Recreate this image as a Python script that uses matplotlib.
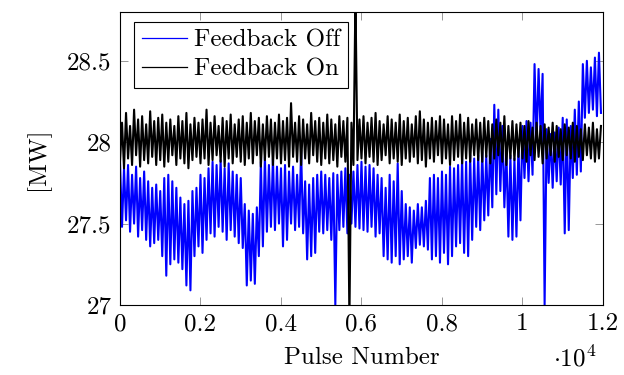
import matplotlib
matplotlib.use("Agg")
import matplotlib.pyplot as plt
import numpy as np
from matplotlib.ticker import FuncFormatter

plt.rcParams['font.family'] = 'cmr10'
plt.rcParams['mathtext.fontset'] = 'cm'
plt.rcParams['axes.unicode_minus'] = False

# pulse bins, 100 pulses each (upper / lower excursion)
pulse = np.arange(0, 12000, 100)

# Feedback Off (blue)
off_hi = [27.88, 27.84, 27.86, 27.80, 27.85, 27.78, 27.82, 27.76, 27.72, 27.74,
          27.70, 27.78, 27.80, 27.76, 27.72, 27.66, 27.62, 27.64, 27.70, 27.72,
          27.80, 27.78, 27.84, 27.88, 27.86, 27.89, 27.84, 27.87, 27.82, 27.80,
          27.78, 27.62, 27.58, 27.56, 27.60, 27.88, 27.91, 27.86, 27.90, 27.85,
          27.84, 27.86, 27.82, 27.85, 27.80, 27.95, 27.76, 27.74, 27.78, 27.80,
          27.82, 27.80, 27.78, 27.81, 27.80, 27.82, 27.84, 27.80, 27.82, 27.86,
          27.88, 27.85, 27.86, 27.84, 27.80, 27.78, 27.72, 27.80, 27.76, 27.87,
          27.70, 27.62, 27.60, 27.58, 27.62, 27.60, 27.64, 27.78, 27.80, 27.78,
          27.82, 27.80, 27.85, 27.84, 27.86, 27.90, 27.88, 27.92, 27.90, 27.92,
          27.94, 27.92, 28.02, 28.23, 28.20, 28.10, 27.95, 27.92, 27.90, 27.98,
          28.10, 28.13, 28.12, 28.48, 28.45, 28.42, 28.08, 28.05, 28.06, 28.09,
          28.15, 28.14, 28.10, 28.20, 28.25, 28.48, 28.50, 28.46, 28.52, 28.55]
off_lo = [27.48, 27.52, 27.45, 27.50, 27.42, 27.46, 27.40, 27.36, 27.38, 27.40,
          27.30, 27.18, 27.25, 27.28, 27.26, 27.22, 27.12, 27.09, 27.30, 27.36,
          27.32, 27.40, 27.44, 27.42, 27.48, 27.45, 27.40, 27.46, 27.42, 27.38,
          27.35, 27.12, 27.15, 27.13, 27.30, 27.36, 27.45, 27.48, 27.46, 27.50,
          27.36, 27.40, 27.50, 27.46, 27.48, 27.44, 27.28, 27.30, 27.32, 27.45,
          27.44, 27.46, 27.40, 27.00, 27.46, 27.48, 27.44, 27.50, 27.48, 27.47,
          27.46, 27.45, 27.48, 27.42, 27.44, 27.30, 27.28, 27.26, 27.30, 27.25,
          27.28, 27.30, 27.26, 27.35, 27.37, 27.36, 27.34, 27.28, 27.30, 27.26,
          27.32, 27.25, 27.30, 27.36, 27.38, 27.32, 27.30, 27.40, 27.48, 27.46,
          27.52, 27.55, 27.60, 27.68, 27.70, 27.60, 27.42, 27.40, 27.42, 27.52,
          27.78, 27.76, 27.80, 28.00, 28.05, 27.00, 27.75, 27.72, 27.76, 27.74,
          27.44, 27.46, 27.78, 27.80, 27.82, 28.15, 28.18, 28.20, 28.16, 28.18]

# Feedback On (black)
on_hi = [28.12, 28.18, 28.10, 28.20, 28.14, 28.16, 28.11, 28.19, 28.13, 28.15,
         28.17, 28.12, 28.14, 28.10, 28.16, 28.13, 28.18, 28.11, 28.15, 28.12,
         28.14, 28.20, 28.12, 28.16, 28.10, 28.15, 28.13, 28.17, 28.11, 28.14,
         28.16, 28.12, 28.18, 28.13, 28.15, 28.11, 28.16, 28.14, 28.12, 28.17,
         28.13, 28.15, 28.24, 28.12, 28.16, 28.14, 28.11, 28.18, 28.13, 28.15,
         28.12, 28.17, 28.14, 28.11, 28.16, 28.13, 28.15, 28.12, 28.90, 28.14,
         28.16, 28.12, 28.15, 28.18, 28.13, 28.11, 28.16, 28.14, 28.12, 28.17,
         28.13, 28.15, 28.11, 28.16, 28.19, 28.14, 28.12, 28.15, 28.13, 28.16,
         28.14, 28.11, 28.16, 28.13, 28.17, 28.12, 28.15, 28.11, 28.14, 28.12,
         28.15, 28.13, 28.11, 28.14, 28.12, 28.16, 28.10, 28.13, 28.11, 28.12,
         28.10, 28.13, 28.09, 28.12, 28.10, 28.11, 28.09, 28.12, 28.10, 28.08,
         28.11, 28.09, 28.12, 28.10, 28.08, 28.11, 28.09, 28.12, 28.08, 28.10]
on_lo = [27.88, 27.84, 27.90, 27.86, 27.92, 27.85, 27.89, 27.87, 27.91, 27.86,
         27.89, 27.85, 27.88, 27.92, 27.86, 27.90, 27.87, 27.84, 27.89, 27.91,
         27.87, 27.90, 27.86, 27.89, 27.92, 27.88, 27.85, 27.90, 27.87, 27.91,
         27.88, 27.86, 27.90, 27.87, 27.92, 27.85, 27.89, 27.91, 27.86, 27.90,
         27.87, 27.89, 27.85, 27.91, 27.88, 27.86, 27.90, 27.87, 27.92, 27.88,
         27.86, 27.90, 27.87, 27.89, 27.85, 27.91, 27.88, 26.90, 27.86, 27.89,
         27.90, 27.87, 27.91, 27.88, 27.86, 27.89, 27.92, 27.87, 27.90, 27.88,
         27.86, 27.90, 27.88, 27.91, 27.87, 27.89, 27.85, 27.90, 27.88, 27.92,
         27.87, 27.90, 27.86, 27.89, 27.91, 27.87, 27.90, 27.88, 27.92, 27.89,
         27.88, 27.91, 27.87, 27.90, 27.92, 27.88, 27.86, 27.90, 27.89, 27.91,
         27.90, 27.88, 27.92, 27.89, 27.91, 27.87, 27.90, 27.92, 27.88, 27.91,
         27.89, 27.92, 27.90, 27.88, 27.91, 27.89, 27.92, 27.90, 27.88, 27.90]


def zigzag(x, hi, lo):
    # hi value at bin start, lo value half a bin later
    xs = np.column_stack([x, x + 50]).ravel()
    ys = np.column_stack([hi, lo]).ravel()
    return xs, ys


fs = 18
fig = plt.figure(figsize=(6.24, 3.75), dpi=100)
ax = fig.add_axes([0.1923, 0.1867, 0.7740, 0.7813])

xs, ys = zigzag(pulse, off_hi, off_lo)
ax.plot(xs, ys, color='blue', lw=1.5, label='Feedback Off')
xs, ys = zigzag(pulse, on_lo, on_hi)
ax.plot(xs, ys, color='black', lw=1.5, label='Feedback On')

ax.set_xlim(0, 12000)
ax.set_ylim(27, 28.8)
ax.set_xticks(np.arange(0, 12001, 2000))
ax.set_yticks([27, 27.5, 28, 28.5])
ax.xaxis.set_major_formatter(FuncFormatter(lambda v, p: '%g' % (v / 1e4)))
ax.yaxis.set_major_formatter(FuncFormatter(lambda v, p: '%g' % v))
ax.tick_params(direction='in', length=6, width=0.6, color='#888888',
               top=True, right=True, labelsize=fs, pad=6)
for s in ax.spines.values():
    s.set_linewidth(0.8)

ax.set_xlabel('Pulse Number', fontsize=fs, labelpad=8)
ax.set_ylabel('[MW]', fontsize=fs, labelpad=12)
ax.text(0.9855, -0.208, r'$\cdot 10^4$', transform=ax.transAxes, ha='right',
        va='baseline', fontsize=fs)

leg = ax.legend(loc='upper left', bbox_to_anchor=(0.029, 0.966), fontsize=fs,
                frameon=True, fancybox=False, edgecolor='black', framealpha=1,
                handlelength=1.8, handletextpad=0.3, borderaxespad=0,
                labelspacing=0.25, borderpad=0.3)
for h in leg.legend_handles:
    h.set_linewidth(0.9)
leg.get_frame().set_linewidth(0.8)

fig.savefig('out.png', dpi=100)
